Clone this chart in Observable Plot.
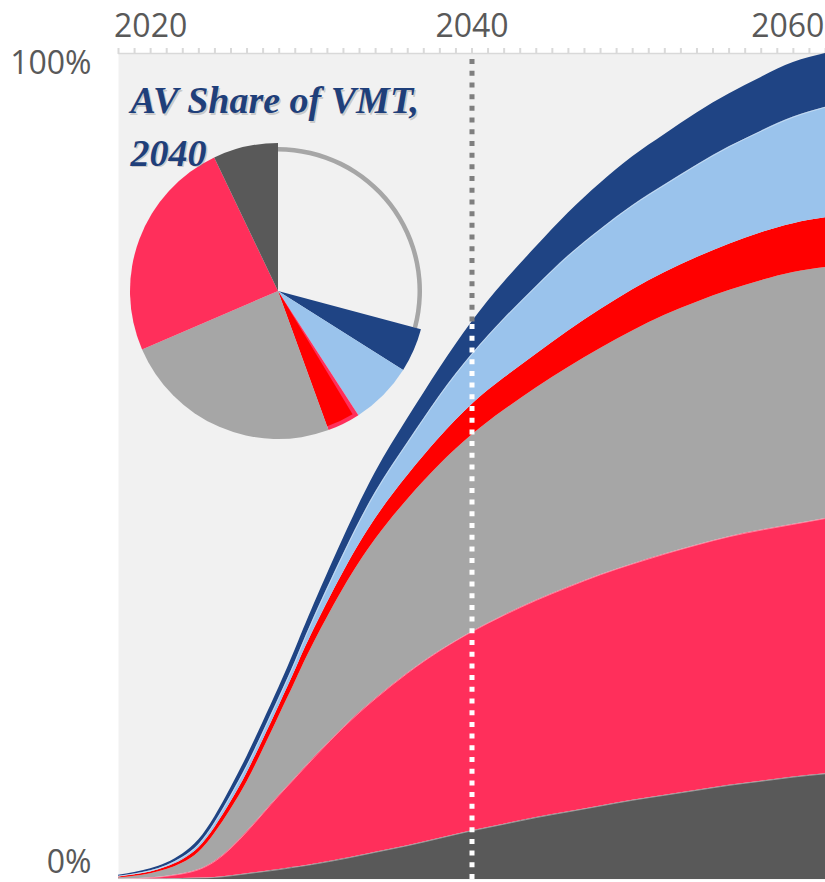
<!DOCTYPE html>
<html><head><meta charset="utf-8">
<script src="https://cdn.jsdelivr.net/npm/d3@7"></script>
<script src="https://cdn.jsdelivr.net/npm/@observablehq/plot@0.6"></script>
<style>body{margin:0;background:#fff} #chart svg{display:block}</style>
</head><body><div id="chart"></div>
<script>
// ---- data (share of VMT, %) ----
const years = [2018,2019,2020,2021,2022,2023,2024,2025,2026,2027,2028,2029,2030,2032,2034,2036,2038,2040,2042,2044,2046,2048,2050,2052,2054,2056,2058,2060,2062];
const seriesNames = ["dark gray","pink","gray","red","light blue","navy"];
const seriesColors = ["#595959","#FF2F5B","#A6A6A6","#FF0000","#9AC3EC","#1F4484"];
const darkGray = [0.02,0.04,0.06,0.09,0.13,0.18,0.25,0.45,0.7,0.95,1.2,1.5,1.8,2.5,3.3,4.1,5.0,5.9,6.7,7.5,8.2,8.9,9.6,10.2,10.8,11.4,11.9,12.4,12.8];
const pink     = [0.03,0.06,0.14,0.31,0.57,1.02,1.95,3.35,5.1,7.05,9.0,10.8,12.6,15.9,18.6,20.9,22.7,24.1,25.3,26.3,27.2,28.0,28.6,29.2,29.7,30.1,30.4,30.6,30.9];
const gray     = [0.15,0.3,0.5,0.8,1.3,2.1,3.4,4.7,6.0,7.7,9.6,11.6,13.6,16.8,19.3,21.0,22.5,23.8,24.8,25.7,26.6,27.4,28.2,28.9,29.4,29.8,30.2,30.5,30.4];
const red      = [0.11,0.17,0.22,0.3,0.4,0.55,0.7,0.9,1.1,1.2,1.25,1.4,1.6,2.0,2.5,2.9,3.3,3.7,3.9,4.1,4.4,4.7,5.0,5.2,5.4,5.6,5.8,5.9,6.0];
const lightBlue= [0.08,0.11,0.15,0.2,0.3,0.4,0.6,0.8,0.9,0.95,1.0,1.1,1.4,2.2,3.2,4.0,5.1,6.1,7.2,8.2,9.1,9.7,10.2,10.6,11.2,11.8,12.3,12.9,13.4];
const navy     = [0.11,0.17,0.23,0.3,0.4,0.55,0.7,0.9,1.1,1.2,1.25,1.4,1.5,1.9,2.4,2.9,3.3,3.9,4.4,4.8,5.2,5.6,5.9,6.1,6.3,6.4,6.5,6.6,6.5];
const seriesValues = [darkGray, pink, gray, red, lightBlue, navy];

// pie: AV share of VMT in 2040 (clockwise from 12 o'clock)
const pieNames  = ["non-AV","navy","light blue","red","gray","pink","dark gray"];
const pieValues = [29.2, 4.8, 6.9, 3.6, 24.1, 24.4, 7.1];
const pieTitle = "AV Share of VMT,\n2040";

const tickYears = d3.range(2018, 2063);
const labelYears = [2020, 2040];
const lastLabelYear = 2060;
const markerYear = 2040;

// ---- build stacked table ----
const rows = [];
years.forEach((yr, i) => {
  let c = 0;
  seriesNames.forEach((s, k) => {
    const v = seriesValues[k][i];
    rows.push({year: yr, series: s, y1: c, y2: c + v});
    c += v;
  });
});
const totalAtMarker = rows.find(r => r.year === markerYear && r.series === "navy").y2;
const colorOf = Object.fromEntries(seriesNames.map((s, k) => [s, seriesColors[k]]));

function pieMark(...args) {
  const dims = args.find(a => a && typeof a === "object" && "marginLeft" in a && "width" in a);
  const cx = dims.marginLeft + 160, cy = dims.marginTop + 238, r = 148;
  const data = pieNames.map((n, i) => ({name: n, value: pieValues[i]}));
  const arcs = d3.pie().sort(null).value(d => d.value)(data);
  const g = d3.create("svg:g").attr("transform", `translate(${cx},${cy})`);
  const arc = d3.arc().innerRadius(0).outerRadius(r);
  for (const a of arcs) {
    if (a.data.name === "non-AV") {
      g.append("path").attr("d", d3.arc().innerRadius(r - 8.5).outerRadius(r - 4)(a)).attr("fill", "#A6A6A6");
    } else if (a.data.name === "red") {
      g.append("path").attr("d", arc(a)).attr("fill", "#FF2F5B");
      g.append("path").attr("d", d3.arc().innerRadius(0).outerRadius(r - 4)
        .startAngle(a.startAngle + 0.03).endAngle(a.endAngle)()).attr("fill", "#FF0000");
    } else {
      g.append("path").attr("d", arc(a)).attr("fill", colorOf[a.data.name]);
    }
  }
  return g.node();
}

const titleFont = "'Liberation Serif', 'DejaVu Serif', serif";
const axisText = {fontSize: 32, fill: "#595959"};
const curve = "natural";

const chart = Plot.plot({
  width: 825, height: 882,
  marginTop: 53, marginBottom: 3, marginLeft: 118, marginRight: 0,
  x: {domain: [2018, 2062], axis: null},
  y: {domain: [0, 100], axis: null},
  color: {domain: seriesNames, range: seriesColors},
  style: {fontFamily: "'Open Sans', sans-serif", background: "#fff", overflow: "visible"},
  marks: [
    Plot.frame({fill: "#F1F1F1", stroke: null}),
    Plot.ruleY([100], {stroke: "#D9D9D9", strokeWidth: 1.5}),
    Plot.axisX({anchor: "top", ticks: tickYears, tickSize: 6, tickFormat: () => "", stroke: "#D9D9D9", strokeWidth: 2, label: null}),
    Plot.areaY(rows, {x: "year", y1: "y1", y2: "y2", z: "series", fill: "series", curve}),
    Plot.lineY(rows.filter(r => ["dark gray", "pink", "light blue"].includes(r.series)),
      {x: "year", y: "y2", z: "series", stroke: "#fff", strokeOpacity: 0.5, strokeWidth: 0.8, curve}),
    Plot.ruleX([markerYear], {y1: totalAtMarker, y2: 100, stroke: "#7F7F7F", strokeWidth: 5, strokeDasharray: "5,6.7"}),
    Plot.ruleX([markerYear], {y1: 0, y2: totalAtMarker, stroke: "#FFFFFF", strokeWidth: 5, strokeDasharray: "5,6.7"}),
    Plot.text(labelYears, {x: d => d, text: d => String(d), frameAnchor: "top", lineAnchor: "bottom", dy: -17, ...axisText}),
    Plot.text([lastLabelYear], {x: d => d, text: d => String(d), frameAnchor: "top", lineAnchor: "bottom", textAnchor: "end", dx: 31, dy: -17, ...axisText}),
    Plot.text(["100%"], {text: d => d, frameAnchor: "top-left", textAnchor: "end", lineAnchor: "bottom", dx: -27, dy: 20, ...axisText}),
    Plot.text(["0%"], {text: d => d, frameAnchor: "bottom-left", textAnchor: "end", lineAnchor: "bottom", dx: -27, dy: -7, ...axisText}),
    pieMark,
    Plot.text([pieTitle], {text: d => d, frameAnchor: "top-left", textAnchor: "start", lineAnchor: "top", dx: 13.5, dy: 24.5,
      fontSize: 38, fontFamily: titleFont, fontWeight: "bold", fontStyle: "italic", fill: "#999", fillOpacity: 0.45, lineHeight: 1.37}),
    Plot.text([pieTitle], {text: d => d, frameAnchor: "top-left", textAnchor: "start", lineAnchor: "top", dx: 12, dy: 23,
      fontSize: 38, fontFamily: titleFont, fontWeight: "bold", fontStyle: "italic", fill: "#1F3F7A", lineHeight: 1.37})
  ]
});
document.getElementById("chart").append(chart);
</script>
</body></html>
